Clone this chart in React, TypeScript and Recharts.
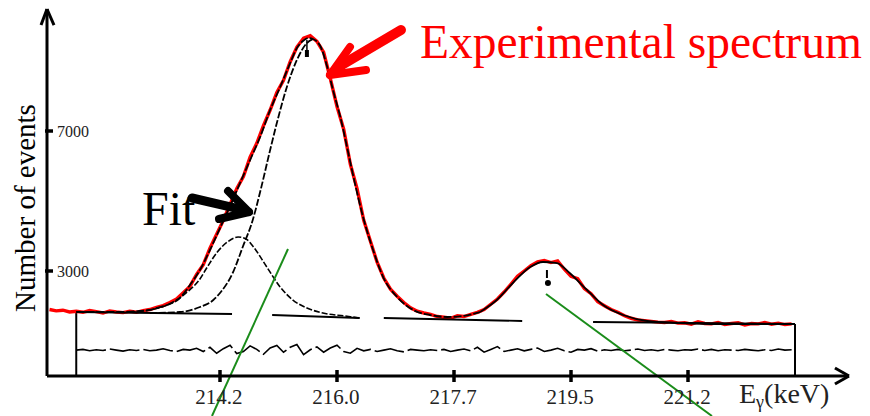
import React from 'react';
import { LineChart, Line, XAxis, YAxis, ReferenceLine, ReferenceDot } from 'recharts';

// ---- axes ----
const X_MIN = 211.6125;
const X_MAX = 223.608;
const Y_MAX = 10486;
const xTickValues = [214.2, 215.95, 217.7, 219.45, 221.2];
const xTickLabels = ['214.2', '216.0', '217.7', '219.5', '221.2'];
const yTickValues = [3000, 7000];
const yTickLabels = ['3000', '7000'];

// ---- experimental spectrum (histogram bins, 0.1 keV) ----
const expStart = 211.65;
const expStep = 0.1;
const expCounts = [
  1900, 1860, 1880, 1830, 1850, 1820, 1870, 1840, 1800, 1860,
  1830, 1810, 1850, 1820, 1870, 1900, 1960, 2010, 2100, 2200,
  2380, 2560, 2900, 3180, 3650, 4050, 4450, 4900, 5350, 5700,
  6250, 6650, 7150, 7600, 8100, 8450, 8980, 9400, 9650, 9720,
  9560, 9250, 8500, 7700, 7050, 6050, 5350, 4450, 3850, 3250,
  2800, 2480, 2280, 2100, 1950, 1850, 1800, 1760, 1700, 1680,
  1650, 1720, 1700, 1760, 1820, 1900, 2050, 2200, 2400, 2620,
  2850, 3000, 3150, 3260, 3300, 3240, 3290, 3050, 2850, 2780,
  2500, 2350, 2120, 2010, 1900, 1820, 1720, 1650, 1600, 1580,
  1560, 1540, 1530, 1560, 1510, 1520, 1480, 1550, 1500, 1490,
  1530, 1470, 1500, 1520, 1460, 1500, 1490, 1530, 1480, 1510,
  1470, 1490,
];

// ---- total fit ----
const fitAE = [212.05, 212.4, 212.7, 213.0, 213.15, 213.3, 213.41, 213.6, 213.75, 213.9, 214.05, 214.2, 214.39, 214.5, 214.65, 214.8, 214.95, 215.1, 215.25, 215.35, 215.44, 215.52, 215.59, 215.7, 215.8, 215.89, 216.0, 216.1, 216.19, 216.34, 216.49, 216.64, 216.85, 217.09, 217.34, 217.6, 217.83, 218.09];
const fitAV = [1828, 1828, 1828, 1857, 1886, 1971, 2028, 2228, 2600, 3028, 3600, 4228, 5028, 5514, 6171, 6828, 7600, 8257, 8943, 9371, 9571, 9657, 9628, 9428, 8857, 8171, 7400, 6543, 5743, 4543, 3600, 2828, 2257, 1886, 1743, 1686, 1714, 1828];
const fitBE = [218.09, 218.34, 218.58, 218.84, 219.03, 219.24, 219.43, 219.69, 219.93, 220.23, 220.59, 221.08, 221.68, 222.28, 222.8];
const fitBV = [1828, 2171, 2657, 3114, 3257, 3228, 2943, 2457, 2028, 1743, 1571, 1514, 1486, 1486, 1486];

// ---- fit components ----
const mainCompE = [213.15, 213.6, 213.9, 214.1, 214.2, 214.39, 214.54, 214.69, 214.8, 214.95, 215.05, 215.2, 215.35, 215.5, 215.59];
const mainCompV = [1800, 1828, 1971, 2171, 2371, 2943, 3686, 4457, 5257, 6457, 7228, 8257, 9028, 9514, 9628];
const smallCompE = [212.85, 213.15, 213.41, 213.71, 213.9, 214.01, 214.16, 214.31, 214.47, 214.59, 214.69, 214.9, 215.1, 215.29, 215.5, 215.74, 216.07, 216.29];
const smallCompV = [1828, 1886, 2028, 2400, 2771, 3114, 3543, 3828, 3971, 3914, 3714, 3114, 2543, 2171, 1943, 1800, 1714, 1657];

// ---- background (segments) ----
const bgE = [212.05, 214.38, 214.68, 214.98, 216.29, 216.47, 216.65, 218.72, 219.25, 219.78, 222.8];
const bgV = [1828, 1771, null, 1743, 1657, null, 1657, 1571, null, 1543, 1486];

// ---- residuals ----
const resStart = 212.05;
const resStep = 0.1;
const residuals = [
  740, 760, 720, 750, 730, 770, 740, 710, 750, 730,
  760, 720, 740, 780, 730, 700, 760, 740, 790, 700,
  820, 650, 780, 880, 640, 700, 860, 760, 620, 800,
  870, 680, 820, 900, 610, 750, 830, 680, 800, 880,
  700, 650, 790, 720, 760, 700, 740, 780, 720, 690,
  760, 740, 720, 750, 730, 760, 700, 740, 770, 720,
  820, 680, 760, 840, 700, 740, 780, 720, 760, 800,
  700, 740, 790, 720, 680, 760, 740, 780, 710, 750,
  730, 760, 720, 740, 770, 730, 750, 720, 760, 740,
  720, 750, 740, 770, 730, 760, 720, 750, 740, 730,
  760, 740, 720, 750, 730, 770, 740, 750,
];

// ---- annotations (data coordinates) ----
const boxLeftE = 212.05;
const boxRightE = 222.8;
const peak1MarkE = 215.5;
const peak2MarkE = 219.09;
const greenLine1 = [{ x: 215.217, y: 3628 }, { x: 214.08, y: -1143 }];
const greenLine2 = [{ x: 219.076, y: 2343 }, { x: 221.558, y: -1143 }];
const redArrowShaft = [{ x: 216.907, y: 9885 }, { x: 215.995, y: 8857 }];
const redArrowTip = { x: 215.845, y: 8600 };
const redArrowArms = [{ x: 216.144, y: 9400 }, { x: 216.384, y: 8742 }];
const blackArrowShaft = [{ x: 213.781, y: 5086 }, { x: 214.499, y: 4771 }];
const blackArrowTip = { x: 214.634, y: 4686 };
const blackArrowArms = [{ x: 214.32, y: 5286 }, { x: 214.185, y: 4486 }];

const zip = (es: number[], vs: (number | null)[]) => es.map((e, i) => ({ e, v: vs[i] }));
const bins = (start: number, step: number, vs: number[]) =>
  vs.map((v, i) => ({ e: Math.round((start + i * step) * 1000) / 1000, v }));

const expData = bins(expStart, expStep, expCounts);
const fitAData = zip(fitAE, fitAV);
const fitBData = zip(fitBE, fitBV);
const mainCompData = zip(mainCompE, mainCompV);
const smallCompData = zip(smallCompE, smallCompV);
const bgData = zip(bgE, bgV);
const resData = bins(resStart, resStep, residuals);

const FONT = "'Liberation Serif', 'Times New Roman', serif";

const XTick = (props: any) => {
  const { x, y, payload } = props;
  const idx = xTickValues.indexOf(payload.value);
  return (
    <g>
      <line x1={x} y1={y - 6} x2={x} y2={y + 6} stroke="#000" strokeWidth={3.5} />
      <text x={x - 1} y={y + 28} textAnchor="middle" fontSize={21} fontFamily={FONT} fill="#222">
        {xTickLabels[idx]}
      </text>
    </g>
  );
};

const YTick = (props: any) => {
  const { x, y, payload } = props;
  const idx = yTickValues.indexOf(payload.value);
  return (
    <g>
      <line x1={x - 2} y1={y} x2={x + 6} y2={y} stroke="#000" strokeWidth={3.5} />
      <text x={x + 10} y={y + 6} textAnchor="start" fontSize={16} fontFamily={FONT} fill="#222">
        {yTickLabels[idx]}
      </text>
    </g>
  );
};

const seg = (a: any, b: any) => [a, b];

export default function App() {
  return (
    <div style={{ position: 'absolute', left: 0, top: 0, width: 870, height: 416, background: '#fff' }}>
      <LineChart width={870} height={416} margin={{ top: 9, right: 21, bottom: 0, left: 0 }}>
        <XAxis
          type="number"
          dataKey="e"
          domain={[X_MIN, X_MAX]}
          allowDataOverflow
          ticks={xTickValues}
          interval={0}
          tick={XTick}
          tickLine={false}
          tickSize={0}
          tickMargin={0}
          height={40}
          axisLine={{ stroke: '#000', strokeWidth: 3 }}
        />
        <YAxis
          type="number"
          dataKey="v"
          domain={[0, Y_MAX]}
          allowDataOverflow
          ticks={yTickValues}
          interval={0}
          tick={YTick}
          tickLine={false}
          tickSize={0}
          tickMargin={0}
          width={47}
          axisLine={{ stroke: '#000', strokeWidth: 3 }}
        />

        {/* box sides */}
        <ReferenceLine segment={[{ x: boxLeftE, y: 0 }, { x: boxLeftE, y: fitAV[0] }]} stroke="#000" strokeWidth={2} ifOverflow="visible" />
        <ReferenceLine segment={[{ x: boxRightE, y: 0 }, { x: boxRightE, y: fitBV[fitBV.length - 1] }]} stroke="#000" strokeWidth={2} ifOverflow="visible" />

        <Line data={resData} dataKey="v" type="linear" stroke="#000" strokeWidth={1.6} strokeDasharray="30 4" dot={false} isAnimationActive={false} />
        <Line data={expData} dataKey="v" type="linear" stroke="#ff0000" strokeWidth={3.4} dot={false} isAnimationActive={false} />
        <Line data={bgData} dataKey="v" type="linear" stroke="#000" strokeWidth={1.8} dot={false} connectNulls={false} isAnimationActive={false} />
        <Line data={smallCompData} dataKey="v" type="monotone" stroke="#000" strokeWidth={1.6} strokeDasharray="6 2" dot={false} isAnimationActive={false} />
        <Line data={mainCompData} dataKey="v" type="monotone" stroke="#000" strokeWidth={1.8} strokeDasharray="7 2" dot={false} isAnimationActive={false} />
        <Line data={fitAData} dataKey="v" type="monotone" stroke="#000" strokeWidth={1.8} strokeDasharray="8 2" dot={false} isAnimationActive={false} />
        <Line data={fitBData} dataKey="v" type="monotone" stroke="#000" strokeWidth={1.8} dot={false} isAnimationActive={false} />

        {/* peak markers */}
        <ReferenceLine segment={[{ x: peak1MarkE, y: 9600 }, { x: peak1MarkE, y: 9114 }]} stroke="#000" strokeWidth={1.5} ifOverflow="visible" />
        <ReferenceLine segment={[{ x: peak1MarkE, y: 9314 }, { x: peak1MarkE, y: 9114 }]} stroke="#000" strokeWidth={4} ifOverflow="visible" />
        <ReferenceLine segment={[{ x: peak2MarkE, y: 3028 }, { x: peak2MarkE, y: 2800 }]} stroke="#000" strokeWidth={2} ifOverflow="visible" />
        <ReferenceDot x={peak2MarkE + 0.015} y={2657} r={3} fill="#000" stroke="none" ifOverflow="visible" />

        {/* green lines */}
        <ReferenceLine segment={greenLine1} stroke="#1a8c1a" strokeWidth={2} ifOverflow="visible" />
        <ReferenceLine segment={greenLine2} stroke="#1a8c1a" strokeWidth={2} ifOverflow="visible" />

        {/* red arrow */}
        <ReferenceLine segment={redArrowShaft} stroke="#ff0000" strokeWidth={10} strokeLinecap="round" ifOverflow="visible" />
        <ReferenceLine segment={seg(redArrowTip, redArrowArms[0])} stroke="#ff0000" strokeWidth={8} strokeLinecap="round" ifOverflow="visible" />
        <ReferenceLine segment={seg(redArrowTip, redArrowArms[1])} stroke="#ff0000" strokeWidth={8} strokeLinecap="round" ifOverflow="visible" />

        {/* black arrow */}
        <ReferenceLine segment={blackArrowShaft} stroke="#000" strokeWidth={9} strokeLinecap="round" ifOverflow="visible" />
        <ReferenceLine segment={seg(blackArrowTip, blackArrowArms[0])} stroke="#000" strokeWidth={8} strokeLinecap="round" ifOverflow="visible" />
        <ReferenceLine segment={seg(blackArrowTip, blackArrowArms[1])} stroke="#000" strokeWidth={8} strokeLinecap="round" ifOverflow="visible" />

        {/* axis arrowheads */}
        <ReferenceLine segment={[{ x: X_MIN, y: Y_MAX }, { x: 211.523, y: 10028 }]} stroke="#000" strokeWidth={3} ifOverflow="visible" />
        <ReferenceLine segment={[{ x: X_MIN, y: Y_MAX }, { x: 211.717, y: 10028 }]} stroke="#000" strokeWidth={3} ifOverflow="visible" />
        <ReferenceLine segment={[{ x: X_MAX, y: 0 }, { x: 223.398, y: 229 }]} stroke="#000" strokeWidth={3} ifOverflow="visible" />
        <ReferenceLine segment={[{ x: X_MAX, y: 0 }, { x: 223.398, y: -229 }]} stroke="#000" strokeWidth={3} ifOverflow="visible" />
      </LineChart>

      <svg width={870} height={416} style={{ position: 'absolute', left: 0, top: 0, pointerEvents: 'none' }} fontFamily={FONT}>
        <text x={420} y={58} fontSize={47.5} fill="#ff0000">Experimental spectrum</text>
        <text x={142} y={225} fontSize={48} fill="#000">Fit</text>
        <text transform="translate(35,208) rotate(-90)" textAnchor="middle" fontSize={29} fill="#000">Number of events</text>
        <text x={739} y={403} fontSize={28} fill="#222">
          E<tspan fontSize={18} dy={5}>γ</tspan><tspan dy={-5}>(keV)</tspan>
        </text>
      </svg>
    </div>
  );
}
